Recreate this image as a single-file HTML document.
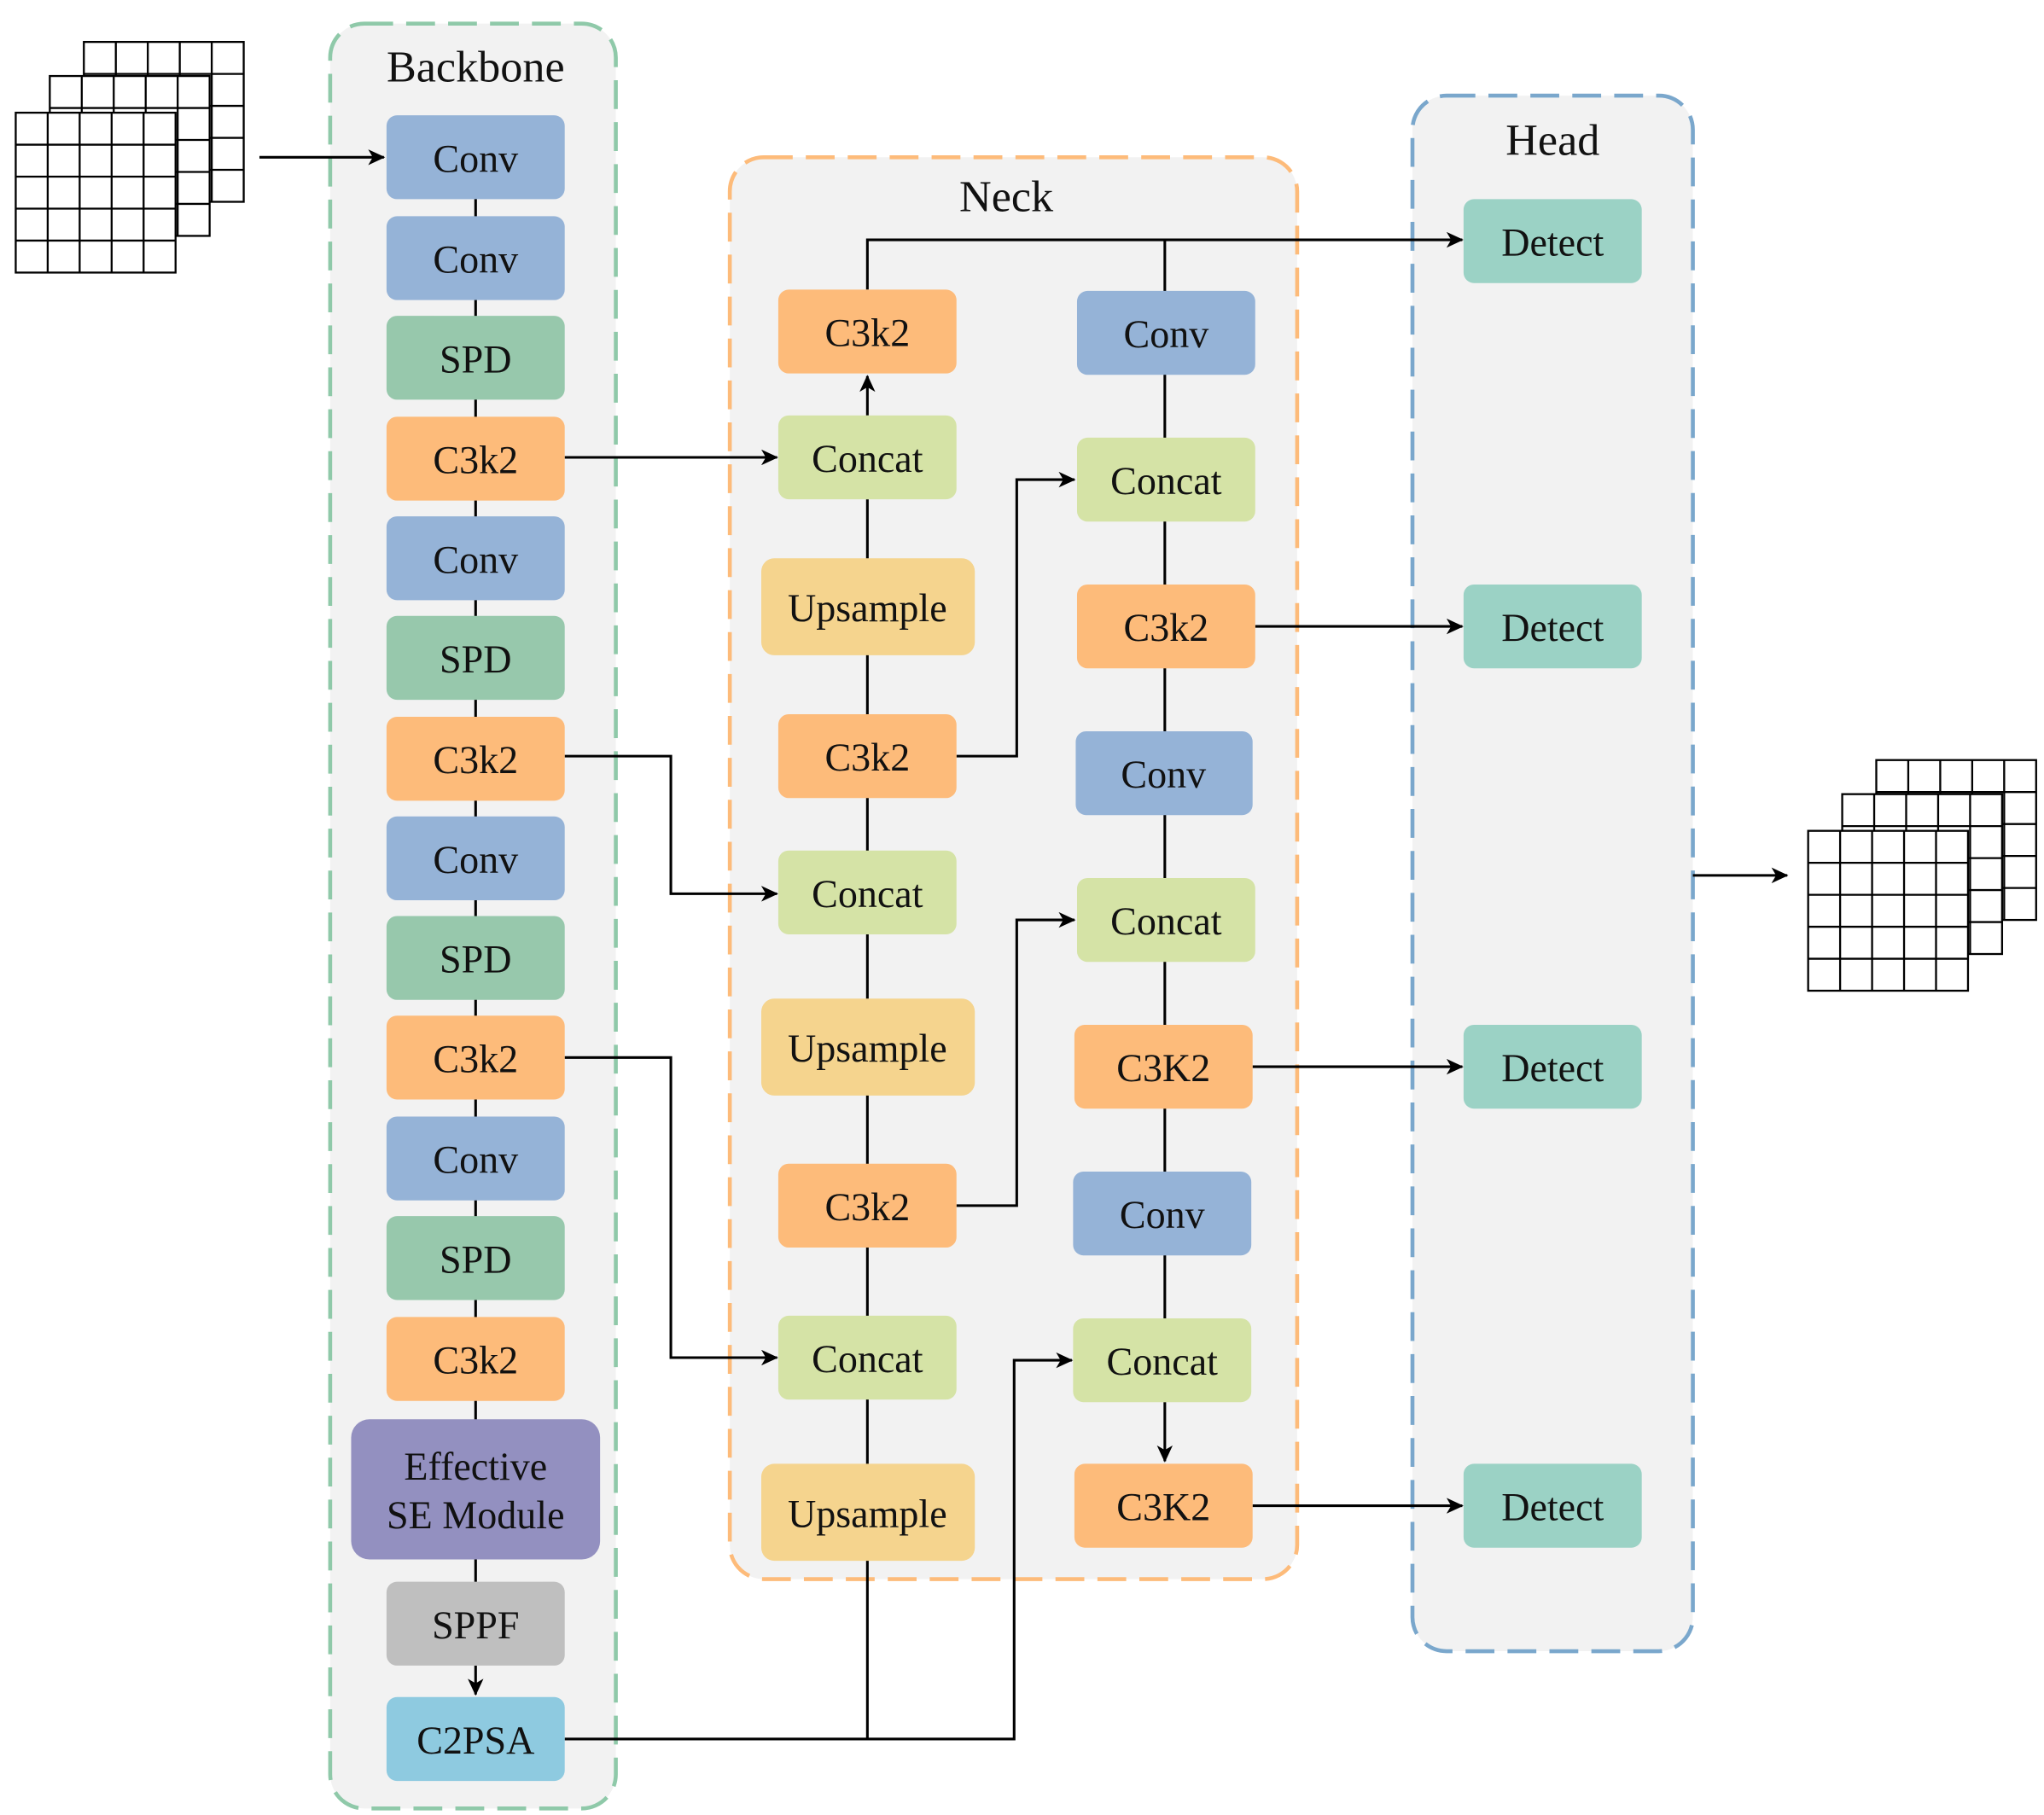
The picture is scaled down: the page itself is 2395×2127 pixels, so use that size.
<!DOCTYPE html>
<html><head><meta charset="utf-8">
<style>
html,body{margin:0;padding:0;background:#fff;}
svg{display:block;}
text{font-family:"Liberation Serif",serif;font-size:30px;fill:#111;text-anchor:middle;dominant-baseline:central;}
text.t{font-size:34px;}
</style></head><body>
<svg width="2395" height="2127" viewBox="0 0 1560 1385" preserveAspectRatio="none" xmlns="http://www.w3.org/2000/svg">
<defs>
<marker id="a" markerWidth="13" markerHeight="12" refX="12" refY="6" orient="auto" markerUnits="userSpaceOnUse" viewBox="0 0 13 12">
<path d="M0,0 L13,6 L0,12 L3.5,6 z" fill="#000"/></marker>
<g id="grid">
<rect x="0" y="0" width="122" height="122" fill="#fff" stroke="#000" stroke-width="1.5"/>
<path d="M24.4,0V122M48.8,0V122M73.2,0V122M97.6,0V122M0,24.4H122M0,48.8H122M0,73.2H122M0,97.6H122" stroke="#000" stroke-width="1.5"/>
</g>
</defs>
<rect x="252" y="18" width="218" height="1362" rx="26" fill="#f2f2f2" stroke="#8fc9a9" stroke-width="3" stroke-dasharray="22,10"/>
<rect x="557" y="120" width="433" height="1085" rx="26" fill="#f2f2f2" stroke="#fdbb7a" stroke-width="3" stroke-dasharray="22,10"/>
<rect x="1078" y="73" width="214" height="1187" rx="26" fill="#f2f2f2" stroke="#7aa7cc" stroke-width="3" stroke-dasharray="22,10"/>
<text class="t" x="363" y="51">Backbone</text>
<text class="t" x="768" y="150">Neck</text>
<text class="t" x="1185" y="107">Head</text>

<use href="#grid" x="64" y="32"/><use href="#grid" x="38" y="58"/><use href="#grid" x="12" y="86"/>
<use href="#grid" x="1432" y="580"/><use href="#grid" x="1406" y="606"/><use href="#grid" x="1380" y="634"/>

<g stroke="#000" stroke-width="2" fill="none">
<line x1="198" y1="120" x2="293" y2="120" marker-end="url(#a)"/>
<line x1="363" y1="120" x2="363" y2="1210"/>
<line x1="363" y1="1271" x2="363" y2="1293" marker-end="url(#a)"/>
<line x1="1292" y1="668" x2="1364" y2="668" marker-end="url(#a)"/>
<line x1="431" y1="349" x2="593" y2="349" marker-end="url(#a)"/>
<polyline points="431,577 512,577 512,682 593,682" marker-end="url(#a)"/>
<polyline points="431,807 512,807 512,1036 593,1036" marker-end="url(#a)"/>
<polyline points="431,1327 774,1327 774,1038 818,1038" marker-end="url(#a)"/>
<line x1="662" y1="1327" x2="662" y2="381"/>
<line x1="662" y1="317" x2="662" y2="287" marker-end="url(#a)"/>
<polyline points="662,221 662,183 1116,183" marker-end="url(#a)"/>
<line x1="889" y1="183" x2="889" y2="1070"/>
<line x1="889" y1="1070" x2="889" y2="1115" marker-end="url(#a)"/>
<polyline points="730,577 776,577 776,366 820,366" marker-end="url(#a)"/>
<polyline points="730,920 776,920 776,702 820,702" marker-end="url(#a)"/>
<line x1="958" y1="478" x2="1116" y2="478" marker-end="url(#a)"/>
<line x1="956" y1="814" x2="1116" y2="814" marker-end="url(#a)"/>
<line x1="956" y1="1149" x2="1116" y2="1149" marker-end="url(#a)"/>
</g>

<g>
<rect x="295" y="88" width="136" height="64" rx="8" fill="#95b3d7"/><text x="363" y="121">Conv</text>
<rect x="295" y="165" width="136" height="64" rx="8" fill="#95b3d7"/><text x="363" y="198">Conv</text>
<rect x="295" y="241" width="136" height="64" rx="8" fill="#97c8ac"/><text x="363" y="274">SPD</text>
<rect x="295" y="318" width="136" height="64" rx="8" fill="#fdbb7a"/><text x="363" y="351">C3k2</text>
<rect x="295" y="394" width="136" height="64" rx="8" fill="#95b3d7"/><text x="363" y="427">Conv</text>
<rect x="295" y="470" width="136" height="64" rx="8" fill="#97c8ac"/><text x="363" y="503">SPD</text>
<rect x="295" y="547" width="136" height="64" rx="8" fill="#fdbb7a"/><text x="363" y="580">C3k2</text>
<rect x="295" y="623" width="136" height="64" rx="8" fill="#95b3d7"/><text x="363" y="656">Conv</text>
<rect x="295" y="699" width="136" height="64" rx="8" fill="#97c8ac"/><text x="363" y="732">SPD</text>
<rect x="295" y="775" width="136" height="64" rx="8" fill="#fdbb7a"/><text x="363" y="808">C3k2</text>
<rect x="295" y="852" width="136" height="64" rx="8" fill="#95b3d7"/><text x="363" y="885">Conv</text>
<rect x="295" y="928" width="136" height="64" rx="8" fill="#97c8ac"/><text x="363" y="961">SPD</text>
<rect x="295" y="1005" width="136" height="64" rx="8" fill="#fdbb7a"/><text x="363" y="1038">C3k2</text>
<rect x="268" y="1083" width="190" height="107" rx="14" fill="#9390c0"/><text x="363" y="1119">Effective</text><text x="363" y="1156">SE Module</text>
<rect x="295" y="1207" width="136" height="64" rx="8" fill="#bfbfbf"/><text x="363" y="1240">SPPF</text>
<rect x="295" y="1295" width="136" height="64" rx="8" fill="#8ecae0"/><text x="363" y="1328">C2PSA</text>
</g>

<g>
<rect x="594" y="221" width="136" height="64" rx="8" fill="#fdbb7a"/><text x="662" y="254">C3k2</text>
<rect x="594" y="317" width="136" height="64" rx="8" fill="#d5e3a6"/><text x="662" y="350">Concat</text>
<rect x="581" y="426" width="163" height="74" rx="10" fill="#f5d48e"/><text x="662" y="464">Upsample</text>
<rect x="594" y="545" width="136" height="64" rx="8" fill="#fdbb7a"/><text x="662" y="578">C3k2</text>
<rect x="594" y="649" width="136" height="64" rx="8" fill="#d5e3a6"/><text x="662" y="682">Concat</text>
<rect x="581" y="762" width="163" height="74" rx="10" fill="#f5d48e"/><text x="662" y="800">Upsample</text>
<rect x="594" y="888" width="136" height="64" rx="8" fill="#fdbb7a"/><text x="662" y="921">C3k2</text>
<rect x="594" y="1004" width="136" height="64" rx="8" fill="#d5e3a6"/><text x="662" y="1037">Concat</text>
<rect x="581" y="1117" width="163" height="74" rx="10" fill="#f5d48e"/><text x="662" y="1155">Upsample</text>
</g>
<g>
<rect x="822" y="222" width="136" height="64" rx="8" fill="#95b3d7"/><text x="890" y="255">Conv</text>
<rect x="822" y="334" width="136" height="64" rx="8" fill="#d5e3a6"/><text x="890" y="367">Concat</text>
<rect x="822" y="446" width="136" height="64" rx="8" fill="#fdbb7a"/><text x="890" y="479">C3k2</text>
<rect x="821" y="558" width="135" height="64" rx="8" fill="#95b3d7"/><text x="888" y="591">Conv</text>
<rect x="822" y="670" width="136" height="64" rx="8" fill="#d5e3a6"/><text x="890" y="703">Concat</text>
<rect x="820" y="782" width="136" height="64" rx="8" fill="#fdbb7a"/><text x="888" y="815">C3K2</text>
<rect x="819" y="894" width="136" height="64" rx="8" fill="#95b3d7"/><text x="887" y="927">Conv</text>
<rect x="819" y="1006" width="136" height="64" rx="8" fill="#d5e3a6"/><text x="887" y="1039">Concat</text>
<rect x="820" y="1117" width="136" height="64" rx="8" fill="#fdbb7a"/><text x="888" y="1150">C3K2</text>
</g>
<g>
<rect x="1117" y="152" width="136" height="64" rx="8" fill="#9bd2c5"/><text x="1185" y="185">Detect</text>
<rect x="1117" y="446" width="136" height="64" rx="8" fill="#9bd2c5"/><text x="1185" y="479">Detect</text>
<rect x="1117" y="782" width="136" height="64" rx="8" fill="#9bd2c5"/><text x="1185" y="815">Detect</text>
<rect x="1117" y="1117" width="136" height="64" rx="8" fill="#9bd2c5"/><text x="1185" y="1150">Detect</text>
</g>
</svg>
</body></html>
